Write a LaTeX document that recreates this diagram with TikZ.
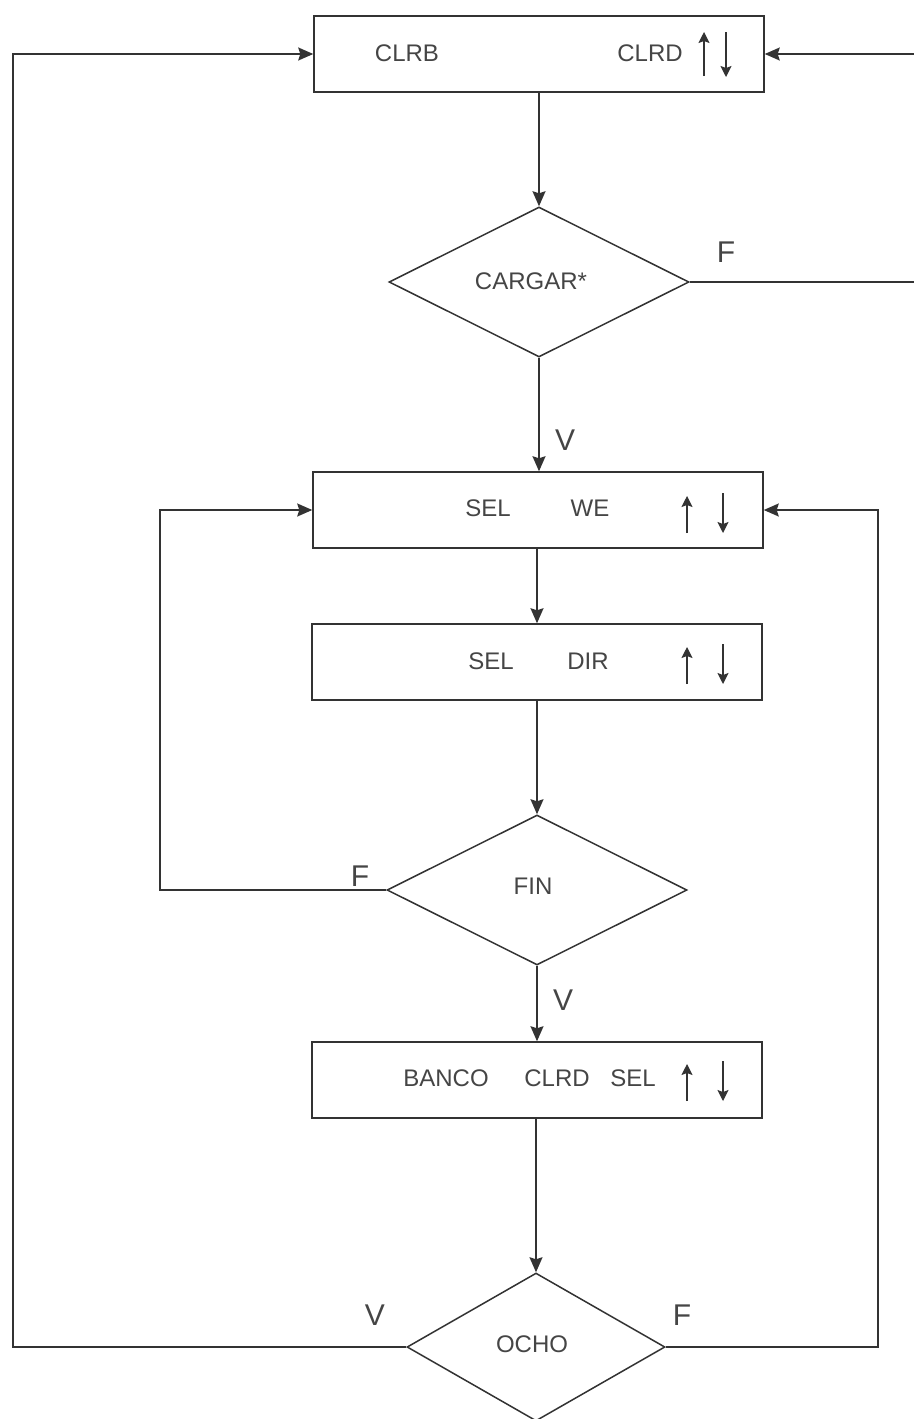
\documentclass[tikz,border=0pt]{standalone}
\usepackage{fontspec}
\setmainfont{Liberation Sans}
\usetikzlibrary{shapes.geometric,arrows.meta}
\definecolor{ink}{HTML}{333333}
\definecolor{tink}{HTML}{454545}
\tikzset{
  box/.style={draw=ink, minimum width=450pt, minimum height=76pt, inner sep=0pt},
  dec/.style={draw=ink, diamond, inner sep=0pt, minimum width=300pt, minimum height=150pt},
  txt/.style={font=\fontsize{24}{24}\selectfont, text=tink, inner sep=0pt},
  lbl/.style={font=\fontsize{30}{30}\selectfont, text=tink, inner sep=0pt},
  flow/.style={draw=ink, -{Stealth[length=15pt,width=13pt,inset=2pt]}},
  updn/.style={draw=ink, -{Stealth[length=11pt,width=11pt,inset=2pt]}, line width=1.3pt},
  updown/.pic={
    \draw[updn] (-11,22) -- (-11,-22);
    \draw[updn] (11,-22) -- (11,23);
  },
  updownw/.pic={
    \draw[updn] (-18,20) -- (-18,-17);
    \draw[updn] (18,-20) -- (18,20);
  }
}
\begin{document}
\begin{tikzpicture}[x=1pt,y=-1pt, line width=1.5pt]
\useasboundingbox (0,0) rectangle (913,1419);

% nodes
\node[box] (b1) at (539,54) {};
\node[dec] (d1) at (539,282) {};
\node[box] (b2) at (538,510) {};
\node[box] (b3) at (537,662) {};
\node[dec] (d2) at (537,890) {};
\node[box] (b4) at (537,1080) {};
\node[dec, minimum width=258pt, minimum height=148pt] (d4) at (536,1347) {};

% texts
\node[txt] (t1a) at (407,53) {CLRB};
\node[txt] (t1b) at (650,53) {CLRD};
\pic at (715,54) {updown};
\node[txt] (td1) at (531,281) {CARGAR*};
\node[txt] (t2a) at (488,508) {SEL};
\node[txt] (t2b) at (590,508) {WE};
\pic at (705,513) {updownw};
\node[txt] (t3a) at (491,661) {SEL};
\node[txt] (t3b) at (588,661) {DIR};
\pic at (705,664) {updownw};
\node[txt] (td2) at (533,886) {FIN};
\node[txt] (t4a) at (446,1078) {BANCO};
\node[txt] (t4b) at (557,1078) {CLRD};
\node[txt] (t4c) at (633,1078) {SEL};
\pic at (705,1081) {updownw};
\node[txt] (td4) at (532,1344) {OCHO};

% labels
\node[lbl] (lF1) at (726,252) {F};
\node[lbl] (lV1) at (565,440) {V};
\node[lbl] (lF2) at (360,876) {F};
\node[lbl] (lV2) at (563,1000) {V};
\node[lbl] (lV4) at (375,1315) {V};
\node[lbl] (lF4) at (682,1315) {F};

% loop columns
\coordinate (L) at (13,0);
\coordinate (R) at (918,0);
\coordinate (FL) at (160,0);
\coordinate (OR) at (878,0);

% main flow
\draw[flow] (b1.south -| d1.north) -- (d1.north);
\draw[flow] (d1.south) -- (d1.south |- b2.north);
\draw[flow] (b2.south -| b3.north) -- (b3.north);
\draw[flow] (b3.south) -- (d2.north);
\draw[flow] (d2.south) -- (b4.north);
\draw[flow] (b4.south -| d4.north) -- (d4.north);

% loops
\draw[flow] (d1.east) -- (d1.east -| R) -- (R |- b1.east) -- (b1.east);
\draw[flow] (d4.west) -- (d4.west -| L) -- (L |- b1.west) -- (b1.west);
\draw[flow] (d2.west) -- (d2.west -| FL) -- (FL |- b2.west) -- (b2.west);
\draw[flow] (d4.east) -- (d4.east -| OR) -- (OR |- b2.east) -- (b2.east);
\end{tikzpicture}
\end{document}
